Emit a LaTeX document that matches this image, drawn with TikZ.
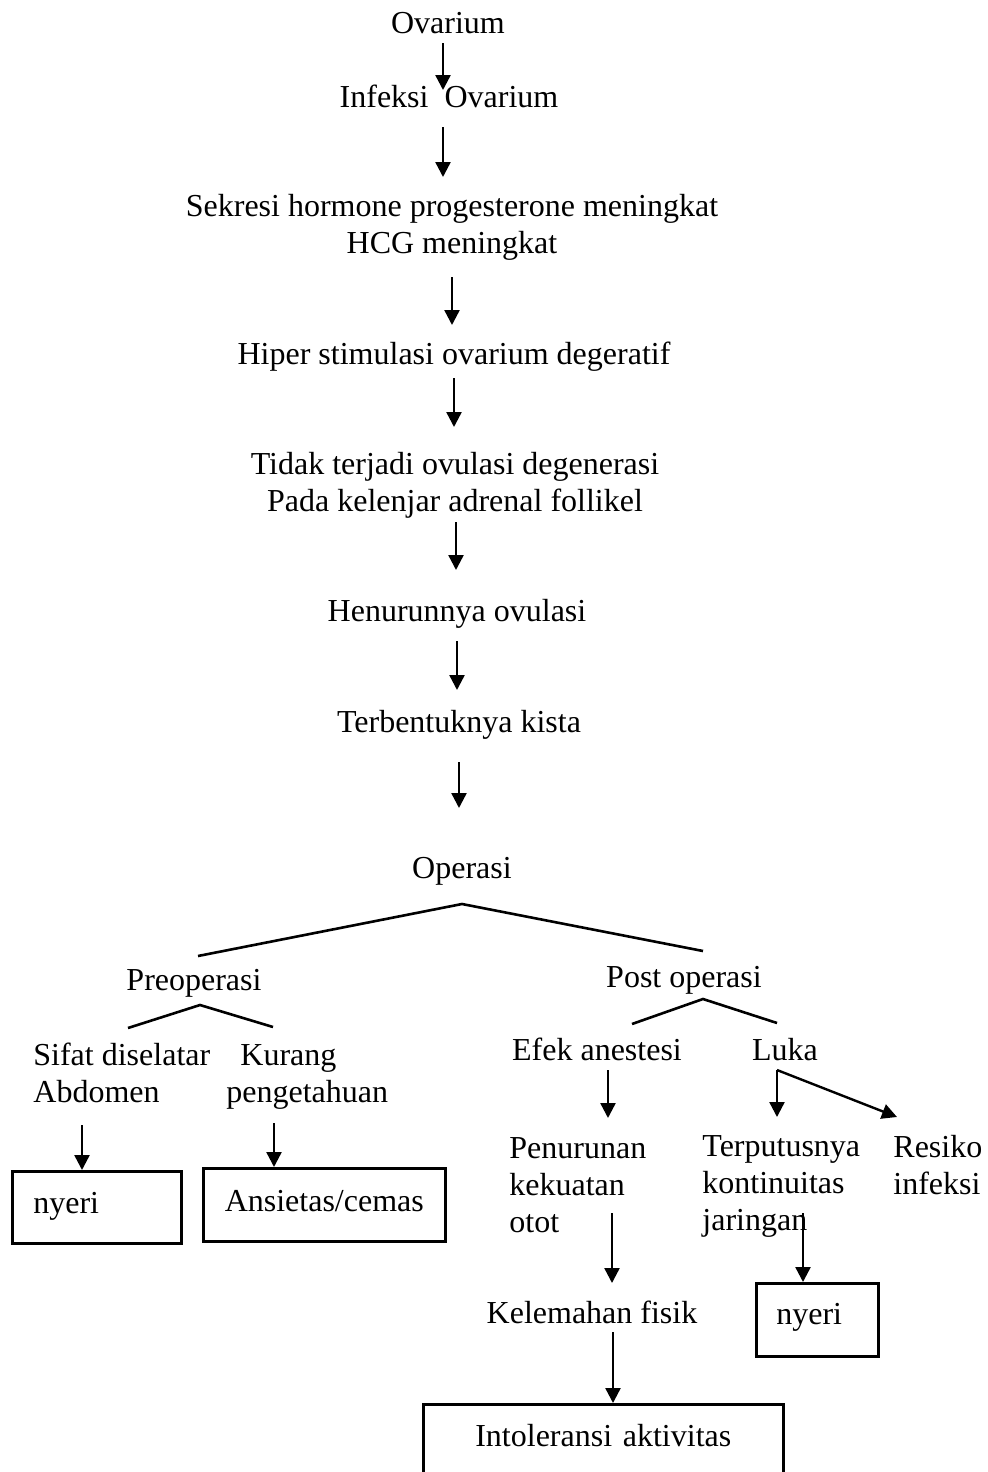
\documentclass[tikz,border=0pt]{standalone}
\usepackage{fontspec}
\setmainfont{Liberation Serif}
\usetikzlibrary{arrows.meta,calc}
\newcommand{\fsz}{\fontsize{16}{18.3}\selectfont}
\tikzset{
  txt/.style={inner sep=0pt, font=\fsz, anchor=base},
  txtl/.style={inner sep=0pt, font=\fsz, anchor=base west, align=left},
  arr/.style={-{Triangle[length=7.5pt,width=7.5pt]}, line width=1.2pt},
  ln/.style={line width=1.3pt},
  boxn/.style={draw, line width=1.3pt, inner ysep=0pt, font=\fsz, anchor=north west},
}
\begin{document}
\begin{tikzpicture}[x=0.5pt,y=-0.5pt]
\useasboundingbox (0,0) rectangle (988,1472);
\clip (0,0) rectangle (988,1472);
\fill[white] (0,0) rectangle (988,1472);

% chain of text (multi-line nodes: base = baseline of last line)
\node[txt] (ov)  at (448,33)  {Ovarium};
\node[txt] (inf) at (449,107) {Infeksi\hspace{0.5em}Ovarium};
\node[txt, align=center] (sek) at (452,253) {Sekresi hormone progesterone meningkat\\HCG meningkat};
\node[txt] (hip) at (454,364) {Hiper stimulasi ovarium degeratif};
\node[txt, align=center] (tid) at (455,511) {Tidak terjadi ovulasi degenerasi\\Pada kelenjar adrenal follikel};
\node[txt] (hen) at (457,621) {Henurunnya ovulasi};
\node[txt] (ter) at (459,732) {Terbentuknya kista};
\node[txt] (ope) at (462,878) {Operasi};

\node[txt] (pre) at (194,990) {Preoperasi};
\node[txt] (pos) at (684,987) {Post operasi};

\node[txtl] (sif) at (33,1102) {Sifat diselatar\\Abdomen};
\node[txtl] (kur) at (226,1102) {\hspace{7pt}Kurang\\pengetahuan};

\node[txt] (efe) at (597,1060) {Efek anestesi};
\node[txt] (luk) at (785,1060) {Luka};

\node[txtl] (pen) at (509,1232) {Penurunan\\kekuatan\\otot};
\node[txtl] (trp) at (702,1230) {Terputusnya\\kontinuitas\\jaringan};
\node[txtl] (res) at (893,1194) {Resiko\\infeksi};

\node[txt] (kel) at (592,1323) {Kelemahan fisik};

% boxes
\node[boxn, inner xsep=10.5pt, text width=63.5pt, align=left, text height=21pt, text depth=15pt] (nye1) at (11,1170) {nyeri};
\node[boxn, inner xsep=0pt, text width=121pt, align=center, text height=21.5pt, text depth=15pt] (anx) at (202,1167) {Ansietas/cemas};
\node[boxn, inner xsep=10pt, text width=41pt, align=left, text height=20.5pt, text depth=16pt] (nye2) at (755,1282) {nyeri};
\node[boxn, inner xsep=0pt, text width=180pt, align=center, text height=21pt, text depth=23pt] (int) at (422,1403) {Intoleransi aktivitas};

% arrows of main chain
\draw[arr] ($(ov.base -| 443,0)+(0,10)$) -- ($(inf.base -| 443,0)+(0,-17)$);
\draw[arr] ($(inf.base -| 443,0)+(0,20)$) -- ($(sek.base -| 443,0)+(0,-76)$);
\draw[arr] ($(sek.base -| 452,0)+(0,24)$) -- ($(hip.base -| 452,0)+(0,-39)$);
\draw[arr] ($(hip.base -| 454,0)+(0,14)$) -- ($(tid.base -| 454,0)+(0,-84)$);
\draw[arr] ($(tid.base -| 456,0)+(0,11)$) -- ($(hen.base -| 456,0)+(0,-51)$);
\draw[arr] ($(hen.base -| 457,0)+(0,20)$) -- ($(ter.base -| 457,0)+(0,-42)$);
\draw[arr] ($(ter.base -| 459,0)+(0,30)$) -- ($(ope.base -| 459,0)+(0,-70)$);

% branch lines
\draw[ln] ($(pre.base -| 198,0)+(0,-34)$) -- ($(ope.base -| 462,0)+(0,26)$) -- ($(pos.base -| 703,0)+(0,-36)$);
\draw[ln] ($(sif.base -| 128,0)+(0,-74)$) -- ($(pre.base -| 200,0)+(0,15)$) -- ($(kur.base -| 273,0)+(0,-75)$);
\draw[ln] ($(efe.base -| 632,0)+(0,-36)$) -- ($(pos.base -| 703,0)+(0,12)$) -- ($(luk.base -| 777,0)+(0,-37)$);

% lower arrows
\draw[arr] ($(sif.base -| 82,0)+(0,23)$) -- (nye1.north -| 82,0);
\draw[arr] ($(kur.base -| 274,0)+(0,21)$) -- (anx.north -| 274,0);
\draw[arr] ($(efe.base -| 608,0)+(0,10)$) -- ($(pen.base -| 608,0)+(0,-114)$);
\coordinate (lk) at ($(luk.base -| 777,0)+(0,10)$);
\draw[arr] (lk) -- ($(trp.base -| 777,0)+(0,-113)$);
\draw[arr] (lk) -- ($(res.base -| 897,0)+(0,-77)$);
\draw[arr] ($(pen.base -| 612,0)+(0,-19)$) -- ($(kel.base -| 612,0)+(0,-40)$);
\draw[arr] ($(trp.base -| 803,0)+(0,-17)$) -- (nye2.north -| 803,0);
\draw[arr] ($(kel.base -| 613,0)+(0,9)$) -- (int.north -| 613,0);
\end{tikzpicture}
\end{document}
